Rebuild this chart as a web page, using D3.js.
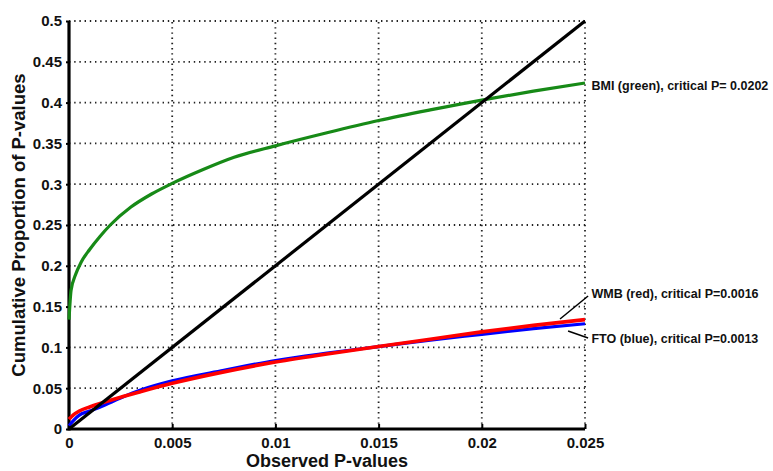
<!DOCTYPE html>
<html>
<head>
<meta charset="utf-8">
<script src="https://cdn.jsdelivr.net/npm/d3@7/dist/d3.min.js"></script>
<style>
  html, body { margin: 0; padding: 0; background: #fff; }
  svg { display: block; font-family: "Liberation Sans", Arial, sans-serif; }
</style>
</head>
<body>
<svg id="chart" width="773" height="471"></svg>
<script>
// ---- data ----
const xTicks = [0, 0.005, 0.01, 0.015, 0.02, 0.025];
const xTickLabels = ["0", "0.005", "0.01", "0.015", "0.02", "0.025"];
const yTicks = [0, 0.05, 0.1, 0.15, 0.2, 0.25, 0.3, 0.35, 0.4, 0.45, 0.5];
const yTickLabels = ["0", "0.05", "0.1", "0.15", "0.2", "0.25", "0.3", "0.35", "0.4", "0.45", "0.5"];

const bmiX = [0, 0.0001, 0.0003, 0.0006, 0.001, 0.0015, 0.002, 0.003, 0.004, 0.005, 0.0065, 0.008, 0.01, 0.0125, 0.015, 0.0175, 0.0202, 0.0225, 0.025];
const bmiY = [0.134, 0.170, 0.188, 0.205, 0.220, 0.236, 0.250, 0.272, 0.288, 0.301, 0.318, 0.333, 0.347, 0.363, 0.378, 0.391, 0.404, 0.414, 0.424];

const pX   = [0, 0.0002, 0.0005, 0.001, 0.0016, 0.0025, 0.0035, 0.005, 0.0075, 0.01, 0.0125, 0.015, 0.0175, 0.02, 0.0225, 0.025];
const wmbY = [0.012, 0.017, 0.022, 0.027, 0.032, 0.039, 0.046, 0.056, 0.070, 0.082, 0.092, 0.101, 0.110, 0.119, 0.127, 0.134];
const ftoY = [0.004, 0.010, 0.017, 0.022, 0.028, 0.038, 0.048, 0.059, 0.072, 0.084, 0.093, 0.101, 0.109, 0.116, 0.123, 0.129];

const diagX = [0, 0.025];
const diagY = [0, 0.5];

const labels = ["BMI (green), critical P= 0.0202", "WMB (red), critical P=0.0016", "FTO (blue), critical P=0.0013"];
// text anchor points and leader lines, in data units (null = no leader)
const labelAnchorX = [0.02512, 0.02512, 0.02512];
const labelAnchorY = [0.421, 0.166, 0.111];
const leaderFrom = [null, [0.02379, 0.1348], [0.02418, 0.120]];
const leaderTo   = [null, [0.02515, 0.163], [0.02515, 0.1115]];

// ---- layout ----
const svg = d3.select("#chart");
const L = 69, R = 585, T = 21, B = 429;
const x = d3.scaleLinear().domain([0, 0.025]).range([L, R]);
const y = d3.scaleLinear().domain([0, 0.5]).range([B, T]);

// grid
const grid = svg.append("g").attr("stroke", "#222").attr("stroke-width", 1.8)
  .attr("stroke-dasharray", "1.4,3.8").attr("fill", "none");
yTicks.filter(v => v > 0).forEach(v => {
  grid.append("line").attr("x1", x(0)).attr("x2", x(0.025)).attr("y1", y(v)).attr("y2", y(v));
});
xTicks.filter(v => v > 0).forEach(v => {
  grid.append("line").attr("y1", y(0)).attr("y2", y(0.5)).attr("x1", x(v)).attr("x2", x(v));
});

// axes
const xAxis = d3.axisBottom(x).tickValues(xTicks).tickFormat((d, i) => xTickLabels[i]).tickSizeInner(-5).tickSizeOuter(0).tickPadding(8);
const yAxis = d3.axisLeft(y).tickValues(yTicks).tickFormat((d, i) => yTickLabels[i]).tickSizeInner(3).tickSizeOuter(0).tickPadding(4);

const gx = svg.append("g").attr("transform", `translate(0,${B})`).call(xAxis);
const gy = svg.append("g").attr("transform", `translate(${L},0)`).call(yAxis);
[gx, gy].forEach(g => {
  g.select(".domain").attr("stroke", "#000").attr("stroke-width", 3.2);
  g.selectAll(".tick line").attr("stroke", "#000").attr("stroke-width", 2);
  g.selectAll(".tick text").attr("fill", "#111").style("font-size", "15px").style("font-weight", "bold")
    .style("font-family", '"Liberation Sans", Arial, sans-serif');
});
gx.select(".domain").attr("d", `M${L},0H${R}`);
gy.select(".domain").attr("d", `M0,${B + 1.5}V${T}`);

// lines
const line = d3.line().x(d => x(d[0])).y(d => y(d[1])).curve(d3.curveMonotoneX);
const zip = (a, b) => a.map((v, i) => [v, b[i]]);

svg.append("path").datum(zip(bmiX, bmiY)).attr("d", line)
  .attr("fill", "none").attr("stroke", "#178a17").attr("stroke-width", 3.2);
svg.append("path").datum(zip(pX, ftoY)).attr("d", line)
  .attr("fill", "none").attr("stroke", "#0000ff").attr("stroke-width", 3.2);
svg.append("path").datum(zip(pX, wmbY)).attr("d", line)
  .attr("fill", "none").attr("stroke", "#ff0000").attr("stroke-width", 3.6);
svg.append("path").datum(zip(diagX, diagY)).attr("d", d3.line().x(d => x(d[0])).y(d => y(d[1])))
  .attr("fill", "none").attr("stroke", "#000").attr("stroke-width", 3.2);

// annotations
labels.forEach((t, i) => {
  if (leaderFrom[i]) {
    svg.append("line")
      .attr("x1", x(leaderFrom[i][0])).attr("y1", y(leaderFrom[i][1]))
      .attr("x2", x(leaderTo[i][0])).attr("y2", y(leaderTo[i][1]))
      .attr("stroke", "#000").attr("stroke-width", 1.5);
  }
  svg.append("text").attr("x", x(labelAnchorX[i]) + 4).attr("y", y(labelAnchorY[i]))
    .attr("dy", "0.35em").attr("fill", "#111")
    .style("font-size", "12.5px").style("font-weight", "bold").text(t);
});

// axis titles
svg.append("text").attr("x", (L + R) / 2).attr("y", 467).attr("text-anchor", "middle")
  .attr("fill", "#111").style("font-size", "18px").style("font-weight", "bold").text("Observed P-values");
svg.append("text").attr("transform", `translate(25,${(T + B) / 2}) rotate(-90)`).attr("text-anchor", "middle")
  .attr("fill", "#111").style("font-size", "18.5px").style("font-weight", "bold").text("Cumulative Proportion of P-values");
</script>
</body>
</html>
